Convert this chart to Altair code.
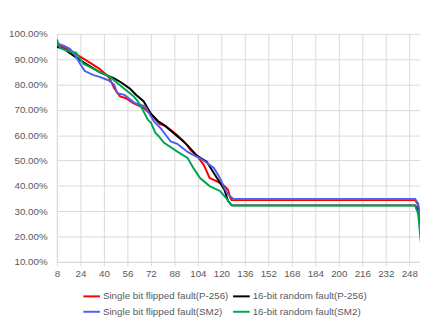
import altair as alt
import pandas as pd

series_names = [
    "Single bit flipped fault(P-256)",
    "16-bit random fault(P-256)",
    "Single bit flipped fault(SM2)",
    "16-bit random fault(SM2)",
]
series_colors = ["#FF0000", "#000000", "#4F5FF2", "#00A550"]

red_x = [8, 13, 17, 21, 28, 37, 42, 44, 47, 51, 55, 60, 67, 73, 78, 82, 89, 95, 99, 103, 108, 112, 117, 121, 124.5, 126, 127, 252, 254, 256]
red_y = [95.9, 94.6, 93.5, 92.0, 89.5, 86.2, 83.7, 82.4, 78.5, 75.3, 74.6, 72.7, 70.8, 67.6, 64.4, 63.7, 60.5, 57.3, 54.1, 52.1, 48.3, 43.1, 41.8, 40.5, 38.6, 35.4, 34.4, 34.4, 32.5, 24.0]

black_x = [8, 13, 21, 28, 37, 47, 51, 57.5, 62, 67, 72, 77, 80, 87, 92, 97, 103, 110, 117, 122, 124.5, 127, 252, 254, 256]
black_y = [94.9, 93.9, 90.7, 88.1, 84.9, 82.4, 81.1, 78.5, 75.9, 73.4, 68.5, 65.5, 64.4, 61.1, 58.6, 56.0, 52.1, 49.5, 43.1, 38.6, 34.1, 32.3, 32.3, 30.5, 22.0]

blue_x = [8, 13, 17, 21, 24, 27, 33, 37, 43, 47, 49, 54, 61, 68, 74, 79, 85.5, 90, 97, 103, 106, 112, 115, 119, 122, 124, 127, 128, 252, 254, 256]
blue_y = [96.2, 95.2, 94.0, 91.0, 88.0, 85.3, 83.7, 83.0, 81.7, 80.0, 76.6, 75.9, 72.7, 71.4, 65.5, 62.5, 57.5, 56.6, 53.4, 51.5, 50.8, 48.3, 47.0, 43.1, 39.3, 37.0, 35.4, 34.8, 34.8, 33.0, 25.0]

green_x = [8, 10, 13, 18, 21, 24, 26, 35, 44, 52, 60, 63, 66, 70, 72, 75, 77, 81, 90, 97, 101, 105.5, 112, 119, 123, 126.7, 128, 252, 254, 256]
green_y = [97.8, 94.5, 93.8, 92.8, 92.6, 90.0, 88.2, 85.6, 83.1, 79.2, 75.5, 73.5, 70.5, 66.0, 65.0, 61.0, 59.8, 57.0, 53.5, 51.0, 47.0, 43.1, 39.9, 38.0, 35.4, 32.5, 32.2, 32.2, 29.0, 17.0]

x_ticks = [8, 24, 40, 56, 72, 88, 104, 120, 136, 152, 168, 184, 200, 216, 232, 248]
y_ticks = [10, 20, 30, 40, 50, 60, 70, 80, 90, 100]

all_x = [red_x, black_x, blue_x, green_x]
all_y = [red_y, black_y, blue_y, green_y]

FONT = "Liberation Sans"
GRAY = "#D9D9D9"
TXT = "#595959"

x_enc = alt.X(
    "x:Q",
    scale=alt.Scale(domain=[8, 255.3], nice=False, zero=False),
    axis=alt.Axis(
        values=x_ticks, title=None, grid=True, gridColor=GRAY, domainColor=GRAY,
        tickColor=GRAY, tickSize=4, labelPadding=3, labelFontSize=10,
        labelColor=TXT, labelFont=FONT, labelFlush=False,
    ),
)
y_enc = alt.Y(
    "y:Q",
    scale=alt.Scale(domain=[10, 100], nice=False, zero=False),
    axis=alt.Axis(
        values=y_ticks, title=None, grid=True, gridColor=GRAY, domainColor=GRAY,
        ticks=False, labelPadding=10, labelFontSize=10, labelColor=TXT,
        labelFont=FONT, labelExpr="format(datum.value, '.2f') + '%'",
        minExtent=49, maxExtent=49,
    ),
)
color_enc = alt.Color(
    "series:N",
    scale=alt.Scale(domain=series_names, range=series_colors),
    legend=alt.Legend(
        orient="none", legendX=26, legendY=258.5, direction="horizontal",
        columns=2, symbolType="stroke", symbolSize=289, symbolStrokeWidth=2,
        labelFontSize=10, labelColor=TXT, labelFont=FONT, labelOffset=2,
        columnPadding=0, rowPadding=1, title=None, labelLimit=300, padding=0,
    ),
)

layers = []
for name, xs, ys in zip(series_names, all_x, all_y):
    df = pd.DataFrame({"x": xs, "y": ys, "series": name})
    layers.append(
        alt.Chart(df).mark_line(strokeWidth=2, clip=True).encode(
            x=x_enc, y=y_enc, color=color_enc
        )
    )

chart = alt.layer(*layers).properties(
    width=371, height=233,
    padding={"left": 0, "top": 18, "right": 0, "bottom": 0},
).configure_view(stroke=None)

chart.save("out.html", embed_options={"renderer": "svg", "actions": False})
